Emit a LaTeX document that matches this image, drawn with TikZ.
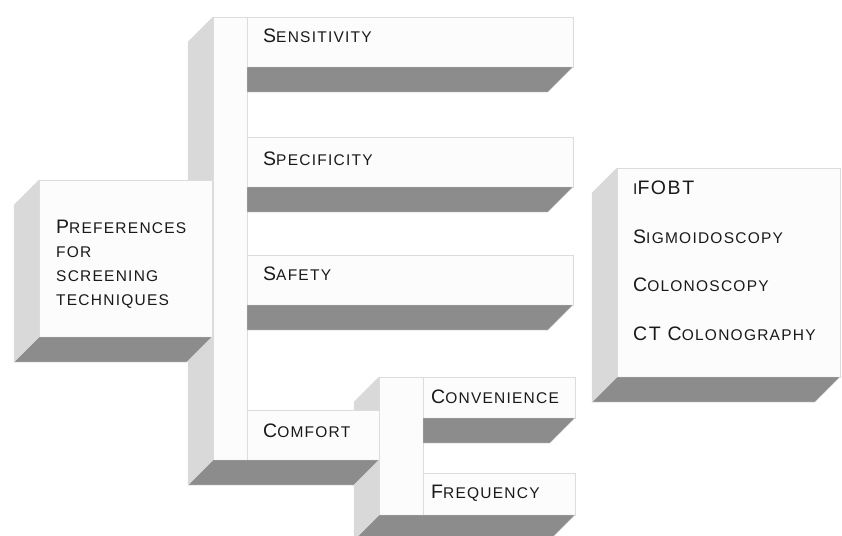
\documentclass[tikz,border=0pt]{standalone}
\usepackage{fontspec}
\setmainfont{Liberation Sans}[LetterSpace=8]
\usetikzlibrary{positioning,calc}
\definecolor{frontwhite}{HTML}{FCFCFC}
\definecolor{rimgray}{HTML}{DCDCDC}
\definecolor{sidegray}{HTML}{D9D9D9}
\definecolor{floorgray}{HTML}{8C8C8C}
\definecolor{inkgray}{HTML}{1A1A1A}
% fake small capitals: the lower-case part set as smaller capitals
\newcommand\smc[1]{{\fontsize{15.5}{18}\selectfont\MakeUppercase{#1}}}
\tikzset{
  front/.style={draw=rimgray,fill=frontwhite,line width=0.6pt,outer sep=0pt,
    inner sep=0pt,anchor=north west},
  sideface/.style={fill=sidegray,draw=rimgray,line width=0.4pt},
  floorface/.style={fill=floorgray,draw=rimgray,line width=0.4pt},
  tag/.style={text=inkgray,inner sep=0pt,anchor=base west,
    font=\fontsize{19.5}{24}\selectfont},
}

\begin{document}
\begin{tikzpicture}[x=1pt,y=-1pt]
\useasboundingbox (0,0) rectangle (842,535);
\clip (0,0) rectangle (842,535);

% second comb: convenience and frequency
\node[front,minimum width=44,minimum height=138] (trunkb) at (379,377) {};
\node[front,minimum width=152,minimum height=41] (conv) at (423,377) {};
\node[front,minimum width=152,minimum height=42] (freq) at (423,473) {};
\fill[sideface] (trunkb.north west) -- ++(-25,25) -- ($(trunkb.south west)+(-25,25)$)
  -- (trunkb.south west) -- cycle;
\fill[floorface] (trunkb.south west) -- (freq.south east) -- ++(-25,25)
  -- ($(trunkb.south west)+(-25,25)$) -- cycle;
\fill[floorface] (conv.south west) -- (conv.south east) -- ++(-25,25)
  -- ($(conv.south west)+(0,25)$) -- cycle;
\node[tag] (convt) at ($(conv.north west)+(8,26)$) {C\smc{onvenience}};
\node[tag] (freqt) at ($(freq.north west)+(8,25)$) {F\smc{requency}};

% main comb: the five criteria
\node[front,minimum width=34,minimum height=443] (trunk) at (213,17) {};
\node[front,minimum width=326,minimum height=50] (sens) at (247,17) {};
\node[front,minimum width=326,minimum height=50] (spec) at (247,137) {};
\node[front,minimum width=326,minimum height=50] (safe) at (247,255) {};
\node[front,minimum width=132,minimum height=50] (comf) at (247,410) {};
\fill[sideface] (trunk.north west) -- ++(-25,25) -- ($(trunk.south west)+(-25,25)$)
  -- (trunk.south west) -- cycle;
\fill[floorface] (trunk.south west) -- (comf.south east) -- ++(-25,25)
  -- ($(trunk.south west)+(-25,25)$) -- cycle;
\foreach \b in {sens,spec,safe}
  \fill[floorface] (\b.south west) -- (\b.south east) -- ++(-25,25)
    -- ($(\b.south west)+(0,25)$) -- cycle;
\node[tag] (senst) at ($(sens.north west)+(16,26)$) {S\smc{ensitivity}};
\node[tag] (spect) at ($(spec.north west)+(16,28)$) {S\smc{pecificity}};
\node[tag] (safet) at ($(safe.north west)+(16,25)$) {S\smc{afety}};
\node[tag] (comft) at ($(comf.north west)+(16,27)$) {C\smc{omfort}};

% root box (multi-line tags sit on their last baseline)
\node[front,minimum width=173,minimum height=157] (pref) at (39,180) {};
\fill[sideface] (pref.north west) -- ++(-25,25) -- ($(pref.south west)+(-25,25)$)
  -- (pref.south west) -- cycle;
\fill[floorface] (pref.south west) -- (pref.south east) -- ++(-25,25)
  -- ($(pref.south west)+(-25,25)$) -- cycle;
\node[tag,align=left] (preft) at ($(pref.north west)+(17,125)$)
  {P\smc{references}\\ \smc{for}\\ \smc{screening}\\ \smc{techniques}};

% the tests
\node[front,minimum width=223,minimum height=209] (tests) at (617,168) {};
\fill[sideface] (tests.north west) -- ++(-25,25) -- ($(tests.south west)+(-25,25)$)
  -- (tests.south west) -- cycle;
\fill[floorface] (tests.south west) -- (tests.south east) -- ++(-25,25)
  -- ($(tests.south west)+(-25,25)$) -- cycle;
\node[tag,align=left,font=\fontsize{19.5}{48.5}\selectfont] (testst)
  at ($(tests.north west)+(16,172)$)
  {\smc{i}FOBT\\ S\smc{igmoidoscopy}\\ C\smc{olonoscopy}\\ CT C\smc{olonography}};
\end{tikzpicture}
\end{document}
